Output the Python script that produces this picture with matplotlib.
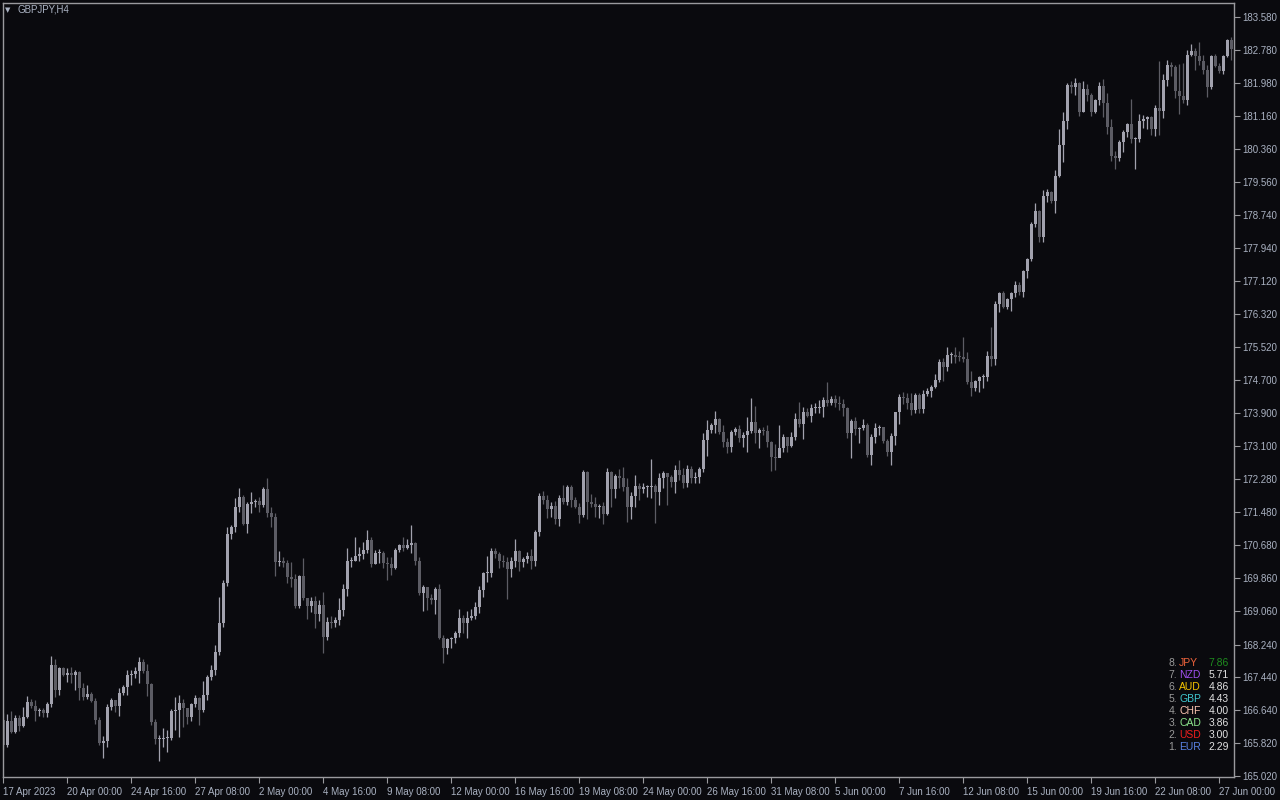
import matplotlib
matplotlib.use("Agg")
import matplotlib.pyplot as plt
import numpy as np

# GBPJPY H4 candles, 17 Apr 2023 -> 28 Jun 2023 (open of each bar = previous close)
first_open = 166.40
closes = [
    165.79, 166.37, 166.10, 166.45, 166.25, 166.47, 166.84, 166.74, 166.62, 166.64,
    166.57, 166.79, 167.74, 167.13, 167.67, 167.50, 167.55, 167.50, 167.57, 167.18,
    166.96, 167.03, 166.86, 166.40, 165.83, 165.88, 166.71, 166.89, 166.74, 167.06,
    167.20, 167.50, 167.52, 167.59, 167.81, 167.59, 167.28, 166.35, 165.93, 165.94,
    165.95, 165.96, 166.62, 166.64, 166.81, 166.69, 166.47, 166.79, 166.93, 166.64,
    167.01, 167.45, 167.62, 168.06, 168.77, 169.75, 170.94, 171.12, 171.61, 171.85,
    171.19, 171.68, 171.73, 171.74, 171.65, 172.04, 171.46, 171.36, 170.26, 170.28,
    170.23, 169.89, 169.84, 169.18, 169.92, 169.38, 169.18, 169.31, 168.99, 169.21,
    168.43, 168.79, 168.77, 168.84, 169.09, 169.60, 170.28, 170.29, 170.41, 170.46,
    170.55, 170.80, 170.21, 170.48, 170.49, 170.23, 170.22, 170.11, 170.55, 170.68,
    170.60, 170.68, 170.72, 170.28, 169.50, 169.65, 169.38, 169.33, 169.60, 168.40,
    168.16, 168.38, 168.39, 168.52, 168.89, 168.77, 168.89, 168.94, 169.16, 169.58,
    169.99, 170.00, 170.53, 170.46, 170.28, 170.27, 170.08, 170.28, 170.53, 170.26,
    170.33, 170.41, 170.28, 170.99, 171.87, 171.78, 171.56, 171.63, 171.31, 171.82,
    171.72, 172.09, 171.78, 171.60, 171.41, 172.46, 171.72, 171.68, 171.60, 171.63,
    171.43, 172.46, 172.04, 172.36, 172.31, 172.09, 171.60, 171.87, 172.11, 172.04,
    172.09, 172.10, 172.11, 171.97, 172.31, 172.44, 172.34, 172.22, 172.51, 172.39,
    172.19, 172.53, 172.31, 172.34, 172.53, 173.24, 173.49, 173.61, 173.76, 173.44,
    173.19, 173.07, 173.44, 173.51, 173.29, 173.37, 173.46, 173.68, 173.41, 173.49,
    173.46, 173.19, 172.83, 172.80, 173.05, 173.32, 173.10, 173.32, 173.76, 173.63,
    173.93, 173.83, 174.02, 174.03, 174.04, 174.22, 174.15, 174.24, 174.15, 174.12,
    174.02, 173.41, 173.71, 173.51, 173.54, 173.61, 172.88, 173.32, 173.54, 173.55,
    173.22, 172.95, 173.34, 173.93, 174.29, 174.27, 174.15, 173.98, 174.34, 174.00,
    174.37, 174.44, 174.54, 174.71, 175.15, 175.03, 175.32, 175.33, 175.27, 175.26,
    175.22, 174.66, 174.51, 174.68, 174.78, 174.79, 175.30, 175.22, 176.57, 176.84,
    176.49, 176.69, 176.84, 177.03, 176.86, 177.37, 177.67, 178.52, 178.84, 178.21,
    179.21, 179.31, 179.09, 179.70, 180.45, 181.04, 181.92, 181.87, 181.97, 181.26,
    181.82, 181.68, 181.26, 181.56, 181.90, 181.48, 180.89, 180.19, 180.14, 180.53,
    180.77, 180.97, 180.60, 180.61, 181.04, 181.09, 181.14, 180.85, 181.36, 181.29,
    182.04, 182.41, 182.36, 181.78, 181.65, 181.56, 182.66, 182.75, 182.63, 182.51,
    182.29, 181.87, 182.63, 182.39, 182.26, 182.63, 183.02, 182.80,
]
highs = [
    166.57, 166.54, 166.62, 166.52, 166.52, 166.71, 166.98, 166.91, 166.89, 166.69,
    166.69, 166.84, 167.96, 167.89, 167.69, 167.69, 167.67, 167.69, 167.62, 167.59,
    167.30, 167.25, 167.08, 166.93, 166.47, 166.00, 166.79, 166.93, 166.89, 167.18,
    167.25, 167.62, 167.62, 167.69, 167.94, 167.89, 167.77, 167.30, 166.42, 166.03,
    166.20, 166.15, 166.67, 166.96, 167.01, 166.91, 166.69, 166.81, 167.01, 166.96,
    167.35, 167.50, 167.74, 168.23, 169.40, 169.82, 171.12, 171.16, 171.82, 172.07,
    171.90, 171.73, 171.97, 171.80, 171.85, 172.09, 172.31, 171.60, 171.46, 170.53,
    170.38, 170.31, 170.26, 169.97, 169.94, 170.36, 169.26, 169.40, 169.43, 169.33,
    169.53, 168.91, 168.94, 168.91, 169.38, 169.72, 170.60, 170.38, 170.87, 170.63,
    170.75, 171.04, 170.87, 170.55, 170.58, 170.53, 170.38, 170.38, 170.60, 170.70,
    170.87, 170.82, 171.16, 170.75, 170.38, 169.70, 169.65, 169.48, 169.65, 169.72,
    168.47, 168.40, 168.43, 168.57, 169.11, 168.96, 169.06, 169.11, 169.28, 169.67,
    170.01, 170.41, 170.60, 170.60, 170.50, 170.43, 170.38, 170.38, 170.82, 170.55,
    170.38, 170.50, 170.58, 171.04, 171.95, 171.99, 171.90, 171.73, 171.75, 171.90,
    172.14, 172.14, 172.14, 171.85, 171.70, 172.51, 172.48, 171.92, 171.85, 171.68,
    171.73, 172.56, 172.48, 172.41, 172.53, 172.58, 172.31, 171.97, 172.39, 172.19,
    172.19, 172.14, 172.78, 172.17, 172.44, 172.48, 172.44, 172.39, 172.63, 172.75,
    172.56, 172.63, 172.61, 172.46, 172.58, 173.41, 173.73, 173.66, 173.95, 173.78,
    173.61, 173.29, 173.49, 173.56, 173.61, 173.44, 173.80, 174.27, 174.07, 173.54,
    173.56, 173.61, 173.22, 173.14, 173.61, 173.39, 173.32, 173.44, 173.90, 174.17,
    174.05, 174.02, 174.12, 174.15, 174.22, 174.29, 174.66, 174.32, 174.34, 174.32,
    174.24, 174.05, 173.76, 173.80, 173.56, 173.76, 173.66, 173.39, 173.66, 173.61,
    173.54, 173.27, 173.41, 173.93, 174.37, 174.42, 174.39, 174.39, 174.39, 174.39,
    174.46, 174.51, 174.59, 174.86, 175.22, 175.25, 175.52, 175.39, 175.52, 175.42,
    175.76, 175.39, 174.93, 174.71, 174.81, 174.86, 175.42, 176.00, 176.64, 176.86,
    176.89, 176.71, 176.86, 177.13, 177.11, 177.40, 177.69, 178.57, 179.04, 178.87,
    179.35, 179.38, 179.33, 179.84, 180.85, 181.26, 181.97, 182.02, 182.09, 181.99,
    182.02, 181.95, 181.73, 181.58, 181.99, 182.07, 181.73, 181.09, 180.31, 180.58,
    180.82, 180.99, 181.58, 180.65, 181.21, 181.19, 181.16, 181.16, 181.43, 182.51,
    182.19, 182.53, 182.48, 182.41, 182.44, 182.46, 182.78, 182.92, 182.83, 182.97,
    182.66, 182.41, 182.66, 182.68, 182.46, 182.66, 183.05, 183.10,
]
lows = [
    165.66, 165.74, 166.08, 166.08, 166.13, 166.23, 166.45, 166.69, 166.37, 166.49,
    166.47, 166.47, 166.71, 166.96, 167.01, 167.47, 167.32, 167.30, 167.13, 166.89,
    166.89, 166.91, 166.84, 166.30, 165.78, 165.47, 165.74, 166.64, 166.59, 166.49,
    167.01, 167.01, 167.25, 167.42, 167.30, 167.55, 166.98, 166.27, 165.81, 165.39,
    165.74, 165.61, 165.91, 166.15, 165.98, 166.23, 166.30, 166.37, 166.71, 166.27,
    166.59, 166.89, 167.37, 167.50, 167.98, 168.67, 169.67, 170.82, 170.99, 171.48,
    171.16, 170.97, 171.46, 171.60, 171.48, 171.60, 171.36, 171.12, 169.92, 170.16,
    170.14, 169.75, 169.65, 169.13, 169.13, 169.33, 168.87, 169.04, 168.65, 168.82,
    168.03, 168.35, 168.65, 168.67, 168.72, 168.94, 169.43, 170.14, 170.28, 170.28,
    170.33, 170.48, 170.14, 170.21, 170.23, 170.11, 169.82, 169.94, 170.09, 170.50,
    170.53, 170.58, 170.48, 170.18, 169.45, 169.06, 169.09, 169.23, 168.99, 168.38,
    167.79, 168.01, 168.16, 168.28, 168.43, 168.52, 168.40, 168.84, 168.87, 169.01,
    169.40, 169.77, 169.89, 170.36, 170.11, 170.14, 169.35, 169.89, 170.14, 170.04,
    170.14, 170.23, 170.09, 170.16, 170.89, 171.68, 171.33, 171.36, 171.19, 171.14,
    171.68, 171.65, 171.60, 171.58, 171.21, 171.36, 171.31, 171.60, 171.36, 171.33,
    171.19, 171.41, 171.60, 171.82, 172.07, 171.99, 171.24, 171.31, 171.60, 171.78,
    171.95, 171.85, 171.82, 171.21, 171.65, 172.07, 171.65, 172.09, 171.95, 172.26,
    172.07, 172.09, 172.19, 172.19, 172.19, 172.46, 172.85, 173.41, 173.41, 173.39,
    173.07, 172.92, 172.95, 173.37, 173.19, 173.07, 172.95, 173.41, 173.17, 173.05,
    173.37, 173.07, 172.48, 172.51, 172.83, 172.95, 172.95, 173.07, 173.24, 173.56,
    173.27, 173.80, 173.68, 173.90, 173.90, 173.80, 174.07, 174.10, 174.05, 173.98,
    173.83, 173.29, 172.80, 173.37, 173.17, 173.49, 172.83, 172.63, 173.17, 173.37,
    173.17, 172.85, 172.63, 173.12, 173.63, 174.12, 174.00, 173.85, 173.90, 173.90,
    173.90, 174.32, 174.29, 174.51, 174.66, 174.68, 174.93, 175.12, 175.12, 175.17,
    175.15, 174.61, 174.32, 174.44, 174.42, 174.51, 174.68, 175.05, 175.08, 176.37,
    176.47, 176.45, 176.40, 176.74, 176.79, 176.74, 177.20, 177.62, 178.45, 178.08,
    178.08, 179.06, 179.04, 178.79, 179.67, 180.04, 180.85, 181.73, 181.68, 181.16,
    181.26, 181.53, 181.16, 181.24, 181.43, 181.14, 180.72, 180.06, 179.87, 180.06,
    180.28, 180.65, 180.50, 179.87, 180.53, 180.87, 180.85, 180.70, 180.67, 180.70,
    181.11, 181.90, 182.14, 181.60, 181.21, 181.48, 181.43, 182.63, 182.29, 182.41,
    182.19, 181.63, 181.82, 182.36, 182.22, 182.19, 182.61, 182.53,
]

price_ticks = [165.020, 165.820, 166.640, 167.440, 168.240, 169.060, 169.860, 170.680,
               171.480, 172.280, 173.100, 173.900, 174.700, 175.520, 176.320, 177.120,
               177.940, 178.740, 179.560, 180.360, 181.160, 181.980, 182.780, 183.580]
time_labels = ["17 Apr 2023", "20 Apr 00:00", "24 Apr 16:00", "27 Apr 08:00", "2 May 00:00",
               "4 May 16:00", "9 May 08:00", "12 May 00:00", "16 May 16:00", "19 May 08:00",
               "24 May 00:00", "26 May 16:00", "31 May 08:00", "5 Jun 00:00", "7 Jun 16:00",
               "12 Jun 08:00", "15 Jun 00:00", "19 Jun 16:00", "22 Jun 08:00", "27 Jun 00:00"]
bars_per_label = 16

# currency strength panel
strength_rank = ["8.", "7.", "6.", "5.", "4.", "3.", "2.", "1."]
strength_ccy = ["JPY", "NZD", "AUD", "GBP", "CHF", "CAD", "USD", "EUR"]
strength_val = ["7.86", "5.71", "4.86", "4.43", "4.00", "3.86", "3.00", "2.29"]
ccy_colors = ["#f0643c", "#a050f0", "#f5c400", "#40c8d0", "#ffc8b4", "#8ee88e", "#f01e1e", "#5a82e6"]

BG = "#0a0a0e"
FRAME = "#9a9a9e"
TXT = "#aab2c2"
BULL = "#a2a2ae"
BEAR = "#5c5c64"

plt.rcParams["font.family"] = ["Liberation Sans", "DejaVu Sans"]

W, H = 1280, 800
fig = plt.figure(figsize=(12.8, 8), dpi=100, facecolor=BG)
ax = fig.add_axes([3 / W, (H - 777) / H, 1231 / W, 774 / H])
ax.set_facecolor(BG)

closes = np.array(closes)
highs = np.array(highs)
lows = np.array(lows)
opens = np.concatenate([[first_open], closes[:-1]])
idx = np.arange(len(closes))
up = closes >= opens

# wicks
ax.vlines(idx[up], lows[up], highs[up], color=BULL, linewidth=0.9)
ax.vlines(idx[~up], lows[~up], highs[~up], color=BEAR, linewidth=0.9)
# bodies
body_lo = np.minimum(opens, closes)
body_h = np.maximum(np.abs(closes - opens), 0.025)
ax.bar(idx[up], body_h[up], bottom=body_lo[up], width=0.78, color=BULL, linewidth=0)
ax.bar(idx[~up], body_h[~up], bottom=body_lo[~up], width=0.78, color=BEAR, linewidth=0)

ax.set_xlim(-0.1, 307.65)
ax.set_ylim(165.00, 183.93)

for s in ax.spines.values():
    s.set_color(FRAME)
    s.set_linewidth(1)

ax.yaxis.tick_right()
ax.set_yticks(price_ticks)
ax.set_yticklabels([f"{p:.3f}" for p in price_ticks])
ax.set_xticks([k * bars_per_label for k in range(len(time_labels))])
ax.set_xticklabels(time_labels)
for lab in ax.get_xticklabels():
    lab.set_horizontalalignment("left")
ax.tick_params(axis="both", direction="out", length=4, width=0.8, color=FRAME,
               labelcolor=TXT, labelsize=7, pad=2)
ax.tick_params(axis="x", pad=3)

# symbol caption
fig.text(8 / W, 1 - 10 / H, "▼", color=TXT, fontsize=5, ha="center", va="center",
         family="DejaVu Sans")
fig.text(18 / W, 1 - 10 / H, "GBPJPY,H4", color=TXT, fontsize=7, ha="left", va="center")

# strength table
for k in range(len(strength_ccy)):
    yy = 1 - (663 + 12 * k) / H
    fig.text(1177 / W, yy, strength_rank[k], color="#9a9a9a", fontsize=7.5, ha="right", va="center")
    fig.text(1179 / W, yy, strength_ccy[k], color=ccy_colors[k], fontsize=7.5, ha="left", va="center")
    fig.text(1229 / W, yy, strength_val[k], color="#1e8c1e" if k == 0 else "#e2e2e2",
             fontsize=7.5, ha="right", va="center")

fig.savefig("out.png", dpi=100, facecolor=BG)
